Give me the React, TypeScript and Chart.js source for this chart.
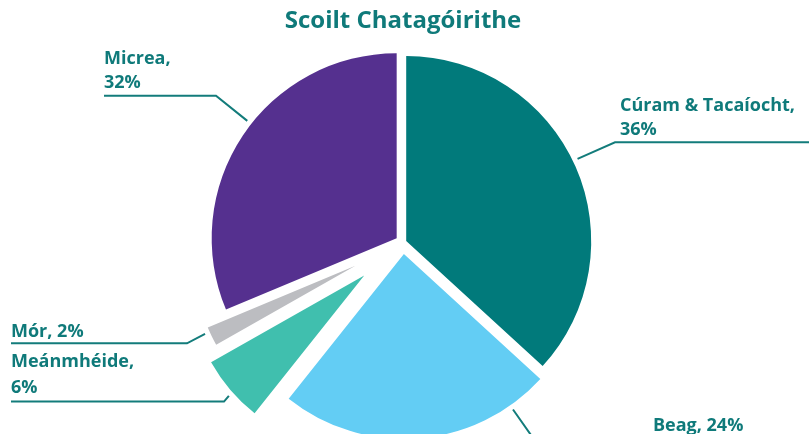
import React, { useEffect, useRef } from 'react';
import { Chart, registerables } from 'chart.js';

Chart.register(...registerables);

// ---- data ----
const categories = ['Cúram & Tacaíocht', 'Beag', 'Meánmhéide', 'Mór', 'Micrea'];
const values = [36.8, 23.9, 6.1, 1.9, 31.3];
const percentLabels = ['36%', '24%', '6%', '2%', '32%'];
const TITLE = 'Scoilt Chatagóirithe';

// ---- styles / layout ----
const sliceColors = ['#017A7B', '#63CDF4', '#40BFAE', '#BCBDC1', '#55308F'];
const sliceShift = [3.5, 11.5, 51, 53, 7.6]; // px the slice is pulled out
const sliceRadius = [185, 185, 176, 160, 185];
const TEXT_COLOR = '#0F7A7A';
const LINE_COLOR = '#137C7B';
const FONT_FAMILY = '"Open Sans", Lato, sans-serif';

const labelLayout = [
  { split: true, textX: 620, baselines: [111, 135], t: 0.486, elbow: [615, 142.3], lineEndX: 809 },
  { split: false, textX: 653, baselines: [431], t: 0.145, elbow: [538, 445], lineEndX: 809 },
  { split: true, textX: 11, baselines: [367, 393], t: 0.45, elbow: [224, 401.6], lineEndX: 11 },
  { split: false, textX: 11, baselines: [337], t: 0.76, elbow: [187, 343.3], lineEndX: 11 },
  { split: true, textX: 104, baselines: [64, 88], t: 0.54, elbow: [216, 95.7], lineEndX: 104 },
];

// Keeps each pulled-out slice at its own radius and its true angular width
const radiusPlugin = {
  id: 'sliceRadius',
  afterDatasetUpdate(chart: any) {
    const meta = chart.getDatasetMeta(0);
    meta.data.forEach((arc: any, i: number) => {
      const trans = sliceShift[i];
      const circ = arc.circumference;
      const fix = 1 - Math.sin(Math.min(Math.PI, circ || 0));
      const radiusOffset = trans * fix;
      const R = sliceRadius[i];
      arc.$origStart = arc.startAngle;
      arc.$origEnd = arc.endAngle;
      arc.outerRadius = R - radiusOffset;
      const d = radiusOffset / (Math.PI * R);
      arc.startAngle = arc.$origStart - d / 2;
      arc.endAngle = arc.$origEnd + d / 2;
    });
  },
};

const labelPlugin = {
  id: 'outsideLabels',
  afterDatasetsDraw(chart: any) {
    const meta = chart.getDatasetMeta(0);
    const ctx: CanvasRenderingContext2D = chart.ctx;
    ctx.save();
    meta.data.forEach((arc: any, i: number) => {
      const L = labelLayout[i];
      const s0 = arc.$origStart ?? arc.startAngle;
      const e0 = arc.$origEnd ?? arc.endAngle;
      const half = (s0 + e0) / 2;
      const vx = arc.x + Math.cos(half) * sliceShift[i];
      const vy = arc.y + Math.sin(half) * sliceShift[i];
      const a = s0 + (e0 - s0) * L.t;
      const r = sliceRadius[i] + 5;
      const tx = vx + Math.cos(a) * r;
      const ty = vy + Math.sin(a) * r;
      ctx.beginPath();
      ctx.strokeStyle = LINE_COLOR;
      ctx.lineWidth = 2;
      ctx.moveTo(tx, ty);
      ctx.lineTo(L.elbow[0], L.elbow[1]);
      ctx.lineTo(L.lineEndX, L.elbow[1]);
      ctx.stroke();

      const lines = L.split
        ? [`${categories[i]},`, percentLabels[i]]
        : [`${categories[i]}, ${percentLabels[i]}`];
      ctx.fillStyle = TEXT_COLOR;
      ctx.font = `bold 18px ${FONT_FAMILY}`;
      ctx.textAlign = 'left';
      ctx.textBaseline = 'alphabetic';
      lines.forEach((s, k) => ctx.fillText(s, L.textX, L.baselines[k]));
    });
    ctx.restore();
  },
};

export default function App() {
  const ref = useRef<HTMLCanvasElement>(null);
  useEffect(() => {
    if (!ref.current) return;
    const chart = new Chart(ref.current, {
      type: 'pie',
      data: {
        labels: categories,
        datasets: [
          {
            data: values,
            backgroundColor: sliceColors,
            borderWidth: 0,
            offset: sliceShift.map((s) => s * 4),
          } as any,
        ],
      },
      options: {
        animation: false,
        responsive: false,
        maintainAspectRatio: false,
        radius: 185,
        layout: { padding: { left: 0, right: 3, top: 0, bottom: 0 } },
        plugins: {
          legend: { display: false },
          tooltip: { enabled: false },
          title: {
            display: true,
            text: TITLE,
            color: TEXT_COLOR,
            font: { family: FONT_FAMILY, size: 24, weight: 'bold' },
            padding: { top: 7, bottom: 15.2 },
          },
        },
      } as any,
      plugins: [radiusPlugin, labelPlugin],
    });
    return () => chart.destroy();
  }, []);
  return (
    <div style={{ position: 'fixed', left: 0, top: 0, width: 809, height: 434, background: '#fff' }}>
      <canvas ref={ref} width={809} height={434} style={{ width: 809, height: 434, display: 'block' }} />
    </div>
  );
}
